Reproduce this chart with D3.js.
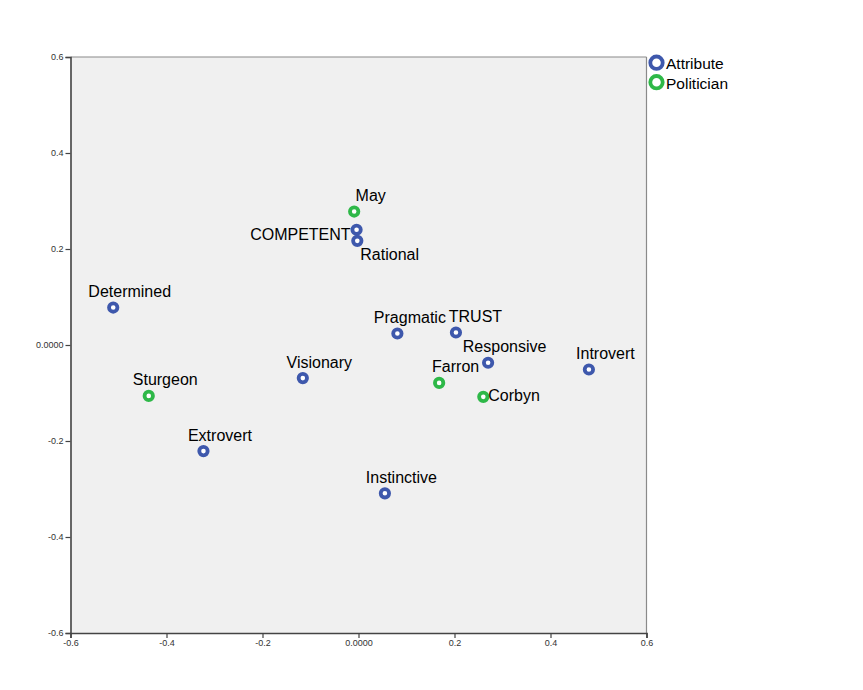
<!DOCTYPE html>
<html><head><meta charset="utf-8">
<script src="https://cdnjs.cloudflare.com/ajax/libs/d3/7.8.5/d3.min.js"></script>
<style>body{margin:0;background:#fff;} svg{display:block;font-family:"Liberation Sans",Arial,sans-serif;}</style>
</head><body><svg id="c" width="863" height="690"></svg>
<script>
const labels = ["May","COMPETENT","Rational","Determined","Pragmatic","TRUST","Responsive","Introvert","Visionary","Farron","Corbyn","Sturgeon","Extrovert","Instinctive"];
const xValues = [-0.009,-0.004,-0.0025,-0.511,0.081,0.203,0.270,0.480,-0.116,0.168,0.260,-0.437,-0.323,0.055];
const yValues = [0.278,0.240,0.217,0.078,0.024,0.026,-0.037,-0.051,-0.069,-0.079,-0.108,-0.106,-0.221,-0.309];
const groups = ["Politician","Attribute","Attribute","Attribute","Attribute","Attribute","Attribute","Attribute","Attribute","Politician","Politician","Politician","Attribute","Attribute"];
const legendItems = ["Attribute","Politician"];
const tickValues = [-0.6,-0.4,-0.2,0,0.2,0.4,0.6];
const tickLabels = ["-0.6","-0.4","-0.2","0.0000","0.2","0.4","0.6"];
const labelPos = ["top","left","below","top","top","top","top","top","top","top","right","top","top","top"];

const colors = {Attribute:"#3E58AC", Politician:"#2EB848"};
const svg = d3.select("#c");
const L=70.5, R=646.5, T=57, B=633;
const x = d3.scaleLinear().domain([-0.6,0.6]).range([L,R]);
const y = d3.scaleLinear().domain([-0.6,0.6]).range([B,T]);

svg.append("rect").attr("x",L).attr("y",T).attr("width",R-L).attr("height",B-T).attr("fill","#f0f0f0");
svg.append("line").attr("x1",L).attr("x2",R).attr("y1",T).attr("y2",T).attr("stroke","#8a8a8a").attr("stroke-width",1.2);
svg.append("line").attr("x1",R).attr("x2",R).attr("y1",T).attr("y2",B).attr("stroke","#8a8a8a").attr("stroke-width",1.2);

const fmt = v => tickLabels[tickValues.indexOf(v)];
const xAxis = d3.axisBottom(x).tickValues(tickValues).tickFormat(fmt).tickSizeOuter(0).tickSize(5).tickPadding(2);
const yAxis = d3.axisLeft(y).tickValues(tickValues).tickFormat(fmt).tickSizeOuter(0).tickSize(5).tickPadding(2);
const gx = svg.append("g").attr("transform",`translate(0,${B})`).call(xAxis);
const gy = svg.append("g").attr("transform",`translate(${L},0)`).call(yAxis);
[gx,gy].forEach(g=>{
  g.select(".domain").attr("stroke","#444").attr("stroke-width",1.6);
  g.selectAll(".tick line").attr("stroke","#444").attr("stroke-width",1.2);
  g.selectAll(".tick text").attr("fill","#333").attr("font-size","9px").attr("font-family","Liberation Sans, Arial, sans-serif");
});

const data = labels.map((l,i)=>({label:l,x:xValues[i],y:yValues[i],g:groups[i],pos:labelPos[i]}));
const topShift = {Pragmatic:12.5, TRUST:19.5};
const pts = svg.append("g");
pts.selectAll("circle").data(data).enter().append("circle")
  .attr("cx",d=>x(d.x)).attr("cy",d=>y(d.y)).attr("r",4.2)
  .attr("fill","#fff").attr("stroke",d=>colors[d.g]).attr("stroke-width",3.8);

pts.selectAll("text").data(data).enter().append("text")
  .attr("x",d=>{const px=x(d.x); if(d.pos==="left") return px-6; if(d.pos==="right") return px+5; if(d.pos==="below") return px+3; return px+(topShift[d.label]||16.5);})
  .attr("y",d=>{const py=y(d.y); if(d.pos==="left") return py+10; if(d.pos==="right") return py+4; if(d.pos==="below") return py+19.5; return py-10.5;})
  .attr("text-anchor",d=>d.pos==="left"?"end":(d.pos==="top"?"middle":"start"))
  .attr("font-size","16px").attr("fill","#000").text(d=>d.label);

const lg = svg.append("g");
legendItems.forEach((k,i)=>{
  const cy = 62.7 + i*19.5;
  lg.append("circle").attr("cx",656.5).attr("cy",cy).attr("r",6.2).attr("fill","#fff").attr("stroke",colors[k]).attr("stroke-width",3.8);
  lg.append("text").attr("x",666).attr("y",cy+6.5).attr("font-size","15.5px").attr("fill","#000").text(k);
});
</script></body></html>
